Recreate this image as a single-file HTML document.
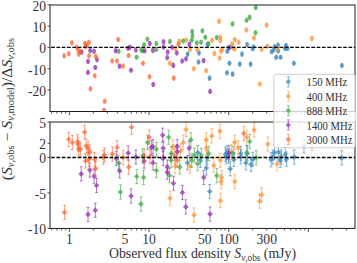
<!DOCTYPE html>
<html><head><meta charset="utf-8"><style>
html,body{margin:0;padding:0;background:#fff;width:357px;height:263px;overflow:hidden}
svg{display:block}
</style></head><body>
<svg width="357" height="263" viewBox="0 0 357 263"><defs><clipPath id="cu"><rect x="50.0" y="5.0" width="305.0" height="106.5"/></clipPath><clipPath id="cl"><rect x="50.0" y="122.0" width="305.0" height="106.4"/></clipPath><filter id="bl" x="-5%" y="-5%" width="110%" height="110%"><feGaussianBlur stdDeviation="0.3"/></filter></defs><rect width="357" height="263" fill="#fff"/><g clip-path="url(#cu)"><g filter="url(#bl)" opacity="0.9"><path d="M186.70 51.55H188.70L189.75 54.10L188.70 56.65H186.70L185.65 54.10Z" fill="rgba(31,119,180,0.8)"/>
<path d="M198.00 50.45H200.00L201.05 53.00L200.00 55.55H198.00L196.95 53.00Z" fill="rgba(31,119,180,0.8)"/>
<path d="M197.50 59.45H199.50L200.55 62.00L199.50 64.55H197.50L196.45 62.00Z" fill="rgba(31,119,180,0.8)"/>
<path d="M206.50 41.85H208.50L209.55 44.40L208.50 46.95H206.50L205.45 44.40Z" fill="rgba(31,119,180,0.8)"/>
<path d="M208.60 75.55H210.60L211.65 78.10L210.60 80.65H208.60L207.55 78.10Z" fill="rgba(31,119,180,0.8)"/>
<path d="M246.10 41.95H248.10L249.15 44.50L248.10 47.05H246.10L245.05 44.50Z" fill="rgba(31,119,180,0.8)"/>
<path d="M226.30 48.65H228.30L229.35 51.20L228.30 53.75H226.30L225.25 51.20Z" fill="rgba(31,119,180,0.8)"/>
<path d="M229.00 44.75H231.00L232.05 47.30L231.00 49.85H229.00L227.95 47.30Z" fill="rgba(31,119,180,0.8)"/>
<path d="M241.00 51.55H243.00L244.05 54.10L243.00 56.65H241.00L239.95 54.10Z" fill="rgba(31,119,180,0.8)"/>
<path d="M251.60 46.15H253.60L254.65 48.70L253.60 51.25H251.60L250.55 48.70Z" fill="rgba(31,119,180,0.8)"/>
<path d="M252.50 44.45H254.50L255.55 47.00L254.50 49.55H252.50L251.45 47.00Z" fill="rgba(31,119,180,0.8)"/>
<path d="M228.50 60.65H230.50L231.55 63.20L230.50 65.75H228.50L227.45 63.20Z" fill="rgba(31,119,180,0.8)"/>
<path d="M238.80 61.55H240.80L241.85 64.10L240.80 66.65H238.80L237.75 64.10Z" fill="rgba(31,119,180,0.8)"/>
<path d="M249.60 61.55H251.60L252.65 64.10L251.60 66.65H249.60L248.55 64.10Z" fill="rgba(31,119,180,0.8)"/>
<path d="M226.00 70.25H228.00L229.05 72.80L228.00 75.35H226.00L224.95 72.80Z" fill="rgba(31,119,180,0.8)"/>
<path d="M231.60 71.55H233.60L234.65 74.10L233.60 76.65H231.60L230.55 74.10Z" fill="rgba(31,119,180,0.8)"/>
<path d="M270.60 49.25H272.60L273.65 51.80L272.60 54.35H270.60L269.55 51.80Z" fill="rgba(31,119,180,0.8)"/>
<path d="M272.70 47.45H274.70L275.75 50.00L274.70 52.55H272.70L271.65 50.00Z" fill="rgba(31,119,180,0.8)"/>
<path d="M273.70 44.25H275.70L276.75 46.80L275.70 49.35H273.70L272.65 46.80Z" fill="rgba(31,119,180,0.8)"/>
<path d="M277.00 42.45H279.00L280.05 45.00L279.00 47.55H277.00L275.95 45.00Z" fill="rgba(31,119,180,0.8)"/>
<path d="M277.20 48.45H279.20L280.25 51.00L279.20 53.55H277.20L276.15 51.00Z" fill="rgba(31,119,180,0.8)"/>
<path d="M275.20 54.75H277.20L278.25 57.30L277.20 59.85H275.20L274.15 57.30Z" fill="rgba(31,119,180,0.8)"/>
<path d="M279.60 54.75H281.60L282.65 57.30L281.60 59.85H279.60L278.55 57.30Z" fill="rgba(31,119,180,0.8)"/>
<path d="M285.00 43.05H287.00L288.05 45.60L287.00 48.15H285.00L283.95 45.60Z" fill="rgba(31,119,180,0.8)"/>
<path d="M284.00 45.95H286.00L287.05 48.50L286.00 51.05H284.00L282.95 48.50Z" fill="rgba(31,119,180,0.8)"/>
<path d="M286.50 45.95H288.50L289.55 48.50L288.50 51.05H286.50L285.45 48.50Z" fill="rgba(31,119,180,0.8)"/>
<path d="M292.90 60.65H294.90L295.95 63.20L294.90 65.75H292.90L291.85 63.20Z" fill="rgba(31,119,180,0.8)"/>
<path d="M340.90 62.95H342.90L343.95 65.50L342.90 68.05H340.90L339.85 65.50Z" fill="rgba(31,119,180,0.8)"/>
<path d="M218.00 18.85H220.00L221.05 21.40L220.00 23.95H218.00L216.95 21.40Z" fill="rgba(255,127,14,0.74)"/>
<path d="M211.10 37.65H213.10L214.15 40.20L213.10 42.75H211.10L210.05 40.20Z" fill="rgba(255,127,14,0.74)"/>
<path d="M185.20 37.45H187.20L188.25 40.00L187.20 42.55H185.20L184.15 40.00Z" fill="rgba(255,127,14,0.74)"/>
<path d="M178.30 38.75H180.30L181.35 41.30L180.30 43.85H178.30L177.25 41.30Z" fill="rgba(255,127,14,0.74)"/>
<path d="M168.90 60.65H170.90L171.95 63.20L170.90 65.75H168.90L167.85 63.20Z" fill="rgba(255,127,14,0.74)"/>
<path d="M174.40 46.15H176.40L177.45 48.70L176.40 51.25H174.40L173.35 48.70Z" fill="rgba(255,127,14,0.74)"/>
<path d="M188.90 46.95H190.90L191.95 49.50L190.90 52.05H188.90L187.85 49.50Z" fill="rgba(255,127,14,0.74)"/>
<path d="M192.80 66.25H194.80L195.85 68.80L194.80 71.35H192.80L191.75 68.80Z" fill="rgba(255,127,14,0.74)"/>
<path d="M196.30 46.95H198.30L199.35 49.50L198.30 52.05H196.30L195.25 49.50Z" fill="rgba(255,127,14,0.74)"/>
<path d="M205.20 68.05H207.20L208.25 70.60L207.20 73.15H205.20L204.15 70.60Z" fill="rgba(255,127,14,0.74)"/>
<path d="M213.40 50.95H215.40L216.45 53.50L215.40 56.05H213.40L212.35 53.50Z" fill="rgba(255,127,14,0.74)"/>
<path d="M218.60 55.45H220.60L221.65 58.00L220.60 60.55H218.60L217.55 58.00Z" fill="rgba(255,127,14,0.74)"/>
<path d="M245.30 27.35H247.30L248.35 29.90L247.30 32.45H245.30L244.25 29.90Z" fill="rgba(255,127,14,0.74)"/>
<path d="M265.60 22.55H267.60L268.65 25.10L267.60 27.65H265.60L264.55 25.10Z" fill="rgba(255,127,14,0.74)"/>
<path d="M253.00 35.35H255.00L256.05 37.90L255.00 40.45H253.00L251.95 37.90Z" fill="rgba(255,127,14,0.74)"/>
<path d="M219.30 34.85H221.30L222.35 37.40L221.30 39.95H219.30L218.25 37.40Z" fill="rgba(255,127,14,0.74)"/>
<path d="M219.30 38.05H221.30L222.35 40.60L221.30 43.15H219.30L218.25 40.60Z" fill="rgba(255,127,14,0.74)"/>
<path d="M233.70 36.95H235.70L236.75 39.50L235.70 42.05H233.70L232.65 39.50Z" fill="rgba(255,127,14,0.74)"/>
<path d="M237.60 39.75H239.60L240.65 42.30L239.60 44.85H237.60L236.55 42.30Z" fill="rgba(255,127,14,0.74)"/>
<path d="M231.10 41.45H233.10L234.15 44.00L233.10 46.55H231.10L230.05 44.00Z" fill="rgba(255,127,14,0.74)"/>
<path d="M266.30 43.75H268.30L269.35 46.30L268.30 48.85H266.30L265.25 46.30Z" fill="rgba(255,127,14,0.74)"/>
<path d="M221.20 46.95H223.20L224.25 49.50L223.20 52.05H221.20L220.15 49.50Z" fill="rgba(255,127,14,0.74)"/>
<path d="M220.00 48.65H222.00L223.05 51.20L222.00 53.75H220.00L218.95 51.20Z" fill="rgba(255,127,14,0.74)"/>
<path d="M232.00 45.25H234.00L235.05 47.80L234.00 50.35H232.00L230.95 47.80Z" fill="rgba(255,127,14,0.74)"/>
<path d="M233.70 46.45H235.70L236.75 49.00L235.70 51.55H233.70L232.65 49.00Z" fill="rgba(255,127,14,0.74)"/>
<path d="M260.70 46.95H262.70L263.75 49.50L262.70 52.05H260.70L259.65 49.50Z" fill="rgba(255,127,14,0.74)"/>
<path d="M258.80 81.45H260.80L261.85 84.00L260.80 86.55H258.80L257.75 84.00Z" fill="rgba(255,127,14,0.74)"/>
<path d="M310.90 35.85H312.90L313.95 38.40L312.90 40.95H310.90L309.85 38.40Z" fill="rgba(255,127,14,0.74)"/>
<path d="M276.20 45.95H278.20L279.25 48.50L278.20 51.05H276.20L275.15 48.50Z" fill="rgba(255,127,14,0.74)"/>
<path d="M117.70 48.65H119.70L120.75 51.20L119.70 53.75H117.70L116.65 51.20Z" fill="rgba(44,160,44,0.8)"/>
<path d="M135.60 54.65H137.60L138.65 57.20L137.60 59.75H135.60L134.55 57.20Z" fill="rgba(44,160,44,0.8)"/>
<path d="M140.20 47.45H142.20L143.25 50.00L142.20 52.55H140.20L139.15 50.00Z" fill="rgba(44,160,44,0.8)"/>
<path d="M141.60 48.15H143.60L144.65 50.70L143.60 53.25H141.60L140.55 50.70Z" fill="rgba(44,160,44,0.8)"/>
<path d="M143.00 42.35H145.00L146.05 44.90L145.00 47.45H143.00L141.95 44.90Z" fill="rgba(44,160,44,0.8)"/>
<path d="M146.40 36.75H148.40L149.45 39.30L148.40 41.85H146.40L145.35 39.30Z" fill="rgba(44,160,44,0.8)"/>
<path d="M155.30 40.95H157.30L158.35 43.50L157.30 46.05H155.30L154.25 43.50Z" fill="rgba(44,160,44,0.8)"/>
<path d="M155.30 46.95H157.30L158.35 49.50L157.30 52.05H155.30L154.25 49.50Z" fill="rgba(44,160,44,0.8)"/>
<path d="M201.40 28.25H203.40L204.45 30.80L203.40 33.35H201.40L200.35 30.80Z" fill="rgba(44,160,44,0.8)"/>
<path d="M191.10 29.05H193.10L194.15 31.60L193.10 34.15H191.10L190.05 31.60Z" fill="rgba(44,160,44,0.8)"/>
<path d="M191.50 33.35H193.50L194.55 35.90L193.50 38.45H191.50L190.45 35.90Z" fill="rgba(44,160,44,0.8)"/>
<path d="M190.60 37.65H192.60L193.65 40.20L192.60 42.75H190.60L189.55 40.20Z" fill="rgba(44,160,44,0.8)"/>
<path d="M204.30 34.75H206.30L207.35 37.30L206.30 39.85H204.30L203.25 37.30Z" fill="rgba(44,160,44,0.8)"/>
<path d="M215.80 35.05H217.80L218.85 37.60L217.80 40.15H215.80L214.75 37.60Z" fill="rgba(44,160,44,0.8)"/>
<path d="M168.90 38.95H170.90L171.95 41.50L170.90 44.05H168.90L167.85 41.50Z" fill="rgba(44,160,44,0.8)"/>
<path d="M182.10 38.45H184.10L185.15 41.00L184.10 43.55H182.10L181.05 41.00Z" fill="rgba(44,160,44,0.8)"/>
<path d="M195.80 40.45H197.80L198.85 43.00L197.80 45.55H195.80L194.75 43.00Z" fill="rgba(44,160,44,0.8)"/>
<path d="M200.00 39.75H202.00L203.05 42.30L202.00 44.85H200.00L198.95 42.30Z" fill="rgba(44,160,44,0.8)"/>
<path d="M207.70 41.35H209.70L210.75 43.90L209.70 46.45H207.70L206.65 43.90Z" fill="rgba(44,160,44,0.8)"/>
<path d="M254.70 4.95H256.70L257.75 7.50L256.70 10.05H254.70L253.65 7.50Z" fill="rgba(44,160,44,0.8)"/>
<path d="M231.60 21.35H233.60L234.65 23.90L233.60 26.45H231.60L230.55 23.90Z" fill="rgba(44,160,44,0.8)"/>
<path d="M245.60 17.65H247.60L248.65 20.20L247.60 22.75H245.60L244.55 20.20Z" fill="rgba(44,160,44,0.8)"/>
<path d="M248.70 14.85H250.70L251.75 17.40L250.70 19.95H248.70L247.65 17.40Z" fill="rgba(44,160,44,0.8)"/>
<path d="M254.50 30.25H256.50L257.55 32.80L256.50 35.35H254.50L253.45 32.80Z" fill="rgba(44,160,44,0.8)"/>
<path d="M80.60 49.55H82.60L83.65 52.10L82.60 54.65H80.60L79.55 52.10Z" fill="rgba(128,10,162,0.75)"/>
<path d="M89.20 47.85H91.20L92.25 50.40L91.20 52.95H89.20L88.15 50.40Z" fill="rgba(128,10,162,0.75)"/>
<path d="M93.10 48.65H95.10L96.15 51.20L95.10 53.75H93.10L92.05 51.20Z" fill="rgba(128,10,162,0.75)"/>
<path d="M96.00 57.25H98.00L99.05 59.80L98.00 62.35H96.00L94.95 59.80Z" fill="rgba(128,10,162,0.75)"/>
<path d="M87.00 58.95H89.00L90.05 61.50L89.00 64.05H87.00L85.95 61.50Z" fill="rgba(128,10,162,0.75)"/>
<path d="M94.30 64.95H96.30L97.35 67.50L96.30 70.05H94.30L93.25 67.50Z" fill="rgba(128,10,162,0.75)"/>
<path d="M87.00 69.85H89.00L90.05 72.40L89.00 74.95H87.00L85.95 72.40Z" fill="rgba(128,10,162,0.75)"/>
<path d="M114.60 48.15H116.60L117.65 50.70L116.60 53.25H114.60L113.55 50.70Z" fill="rgba(128,10,162,0.75)"/>
<path d="M127.10 45.75H129.10L130.15 48.30L129.10 50.85H127.10L126.05 48.30Z" fill="rgba(128,10,162,0.75)"/>
<path d="M128.80 44.75H130.80L131.85 47.30L130.80 49.85H128.80L127.75 47.30Z" fill="rgba(128,10,162,0.75)"/>
<path d="M118.50 63.55H120.50L121.55 66.10L120.50 68.65H118.50L117.45 66.10Z" fill="rgba(128,10,162,0.75)"/>
<path d="M130.00 67.75H132.00L133.05 70.30L132.00 72.85H130.00L128.95 70.30Z" fill="rgba(128,10,162,0.75)"/>
<path d="M134.80 47.45H136.80L137.85 50.00L136.80 52.55H134.80L133.75 50.00Z" fill="rgba(128,10,162,0.75)"/>
<path d="M143.70 48.15H145.70L146.75 50.70L145.70 53.25H143.70L142.65 50.70Z" fill="rgba(128,10,162,0.75)"/>
<path d="M148.80 40.95H150.80L151.85 43.50L150.80 46.05H148.80L147.75 43.50Z" fill="rgba(128,10,162,0.75)"/>
<path d="M151.90 47.85H153.90L154.95 50.40L153.90 52.95H151.90L150.85 50.40Z" fill="rgba(128,10,162,0.75)"/>
<path d="M162.50 39.25H164.50L165.55 41.80L164.50 44.35H162.50L161.45 41.80Z" fill="rgba(128,10,162,0.75)"/>
<path d="M162.50 44.45H164.50L165.55 47.00L164.50 49.55H162.50L161.45 47.00Z" fill="rgba(128,10,162,0.75)"/>
<path d="M152.20 81.95H154.20L155.25 84.50L154.20 87.05H152.20L151.15 84.50Z" fill="rgba(128,10,162,0.75)"/>
<path d="M166.70 49.55H168.70L169.75 52.10L168.70 54.65H166.70L165.65 52.10Z" fill="rgba(128,10,162,0.75)"/>
<path d="M166.20 55.15H168.20L169.25 57.70L168.20 60.25H166.20L165.15 57.70Z" fill="rgba(128,10,162,0.75)"/>
<path d="M171.00 44.75H173.00L174.05 47.30L173.00 49.85H171.00L169.95 47.30Z" fill="rgba(128,10,162,0.75)"/>
<path d="M175.80 50.45H177.80L178.85 53.00L177.80 55.55H175.80L174.75 53.00Z" fill="rgba(128,10,162,0.75)"/>
<path d="M172.30 62.85H174.30L175.35 65.40L174.30 67.95H172.30L171.25 65.40Z" fill="rgba(128,10,162,0.75)"/>
<path d="M181.20 58.45H183.20L184.25 61.00L183.20 63.55H181.20L180.15 61.00Z" fill="rgba(128,10,162,0.75)"/>
<path d="M185.00 56.35H187.00L188.05 58.90L187.00 61.45H185.00L183.95 58.90Z" fill="rgba(128,10,162,0.75)"/>
<path d="M188.40 41.85H190.40L191.45 44.40L190.40 46.95H188.40L187.35 44.40Z" fill="rgba(128,10,162,0.75)"/>
<path d="M202.60 58.05H204.60L205.65 60.60L204.60 63.15H202.60L201.55 60.60Z" fill="rgba(128,10,162,0.75)"/>
<path d="M209.10 88.85H211.10L212.15 91.40L211.10 93.95H209.10L208.05 91.40Z" fill="rgba(128,10,162,0.75)"/>
<path d="M227.70 45.25H229.70L230.75 47.80L229.70 50.35H227.70L226.65 47.80Z" fill="rgba(128,10,162,0.75)"/>
<path d="M70.90 40.15H72.90L73.95 42.70L72.90 45.25H70.90L69.85 42.70Z" fill="rgba(255,69,0,0.7)"/>
<path d="M63.20 53.35H65.20L66.25 55.90L65.20 58.45H63.20L62.15 55.90Z" fill="rgba(255,69,0,0.7)"/>
<path d="M67.80 51.25H69.80L70.85 53.80L69.80 56.35H67.80L66.75 53.80Z" fill="rgba(255,69,0,0.7)"/>
<path d="M75.80 44.75H77.80L78.85 47.30L77.80 49.85H75.80L74.75 47.30Z" fill="rgba(255,69,0,0.7)"/>
<path d="M77.20 47.45H79.20L80.25 50.00L79.20 52.55H77.20L76.15 50.00Z" fill="rgba(255,69,0,0.7)"/>
<path d="M77.70 51.55H79.70L80.75 54.10L79.70 56.65H77.70L76.65 54.10Z" fill="rgba(255,69,0,0.7)"/>
<path d="M79.40 49.25H81.40L82.45 51.80L81.40 54.35H79.40L78.35 51.80Z" fill="rgba(255,69,0,0.7)"/>
<path d="M84.00 40.95H86.00L87.05 43.50L86.00 46.05H84.00L82.95 43.50Z" fill="rgba(255,69,0,0.7)"/>
<path d="M85.80 42.75H87.80L88.85 45.30L87.80 47.85H85.80L84.75 45.30Z" fill="rgba(255,69,0,0.7)"/>
<path d="M88.00 39.65H90.00L91.05 42.20L90.00 44.75H88.00L86.95 42.20Z" fill="rgba(255,69,0,0.7)"/>
<path d="M84.60 44.05H86.60L87.65 46.60L86.60 49.15H84.60L83.55 46.60Z" fill="rgba(255,69,0,0.7)"/>
<path d="M88.00 53.35H90.00L91.05 55.90L90.00 58.45H88.00L86.95 55.90Z" fill="rgba(255,69,0,0.7)"/>
<path d="M94.80 53.85H96.80L97.85 56.40L96.80 58.95H94.80L93.75 56.40Z" fill="rgba(255,69,0,0.7)"/>
<path d="M93.80 73.25H95.80L96.85 75.80L95.80 78.35H93.80L92.75 75.80Z" fill="rgba(255,69,0,0.7)"/>
<path d="M89.50 86.25H91.50L92.55 88.80L91.50 91.35H89.50L88.45 88.80Z" fill="rgba(255,69,0,0.7)"/>
<path d="M103.70 98.75H105.70L106.75 101.30L105.70 103.85H103.70L102.65 101.30Z" fill="rgba(255,69,0,0.7)"/>
<path d="M103.10 107.65H105.10L106.15 110.20L105.10 112.75H103.10L102.05 110.20Z" fill="rgba(255,69,0,0.7)"/>
<path d="M117.20 37.05H119.20L120.25 39.60L119.20 42.15H117.20L116.15 39.60Z" fill="rgba(255,69,0,0.7)"/>
<path d="M127.60 52.95H129.60L130.65 55.50L129.60 58.05H127.60L126.55 55.50Z" fill="rgba(255,69,0,0.7)"/>
<path d="M111.20 58.45H113.20L114.25 61.00L113.20 63.55H111.20L110.15 61.00Z" fill="rgba(255,69,0,0.7)"/>
<path d="M116.00 58.45H118.00L119.05 61.00L118.00 63.55H116.00L114.95 61.00Z" fill="rgba(255,69,0,0.7)"/>
<path d="M122.00 63.55H124.00L125.05 66.10L124.00 68.65H122.00L120.95 66.10Z" fill="rgba(255,69,0,0.7)"/>
<path d="M142.00 60.65H144.00L145.05 63.20L144.00 65.75H142.00L140.95 63.20Z" fill="rgba(255,69,0,0.7)"/>
<path d="M148.60 74.25H150.60L151.65 76.80L150.60 79.35H148.60L147.55 76.80Z" fill="rgba(255,69,0,0.7)"/>
<path d="M172.70 75.55H174.70L175.75 78.10L174.70 80.65H172.70L171.65 78.10Z" fill="rgba(255,69,0,0.7)"/>
<path d="M177.50 41.85H179.50L180.55 44.40L179.50 46.95H177.50L176.45 44.40Z" fill="rgba(255,69,0,0.7)"/></g></g><g clip-path="url(#cl)"><g filter="url(#bl)" opacity="0.84"><path d="M197.70 145.51V159.69M196.30 145.51H199.10M196.30 159.69H199.10" stroke="rgba(31,119,180,0.8)" stroke-width="0.85" fill="none"/><path d="M197.70 149.80L200.50 152.60L197.70 155.40L194.90 152.60Z" fill="rgba(31,119,180,0.8)"/>
<path d="M187.50 155.71V169.89M186.10 155.71H188.90M186.10 169.89H188.90" stroke="rgba(31,119,180,0.8)" stroke-width="0.85" fill="none"/><path d="M187.50 160.00L190.30 162.80L187.50 165.60L184.70 162.80Z" fill="rgba(31,119,180,0.8)"/>
<path d="M200.30 153.21V167.39M198.90 153.21H201.70M198.90 167.39H201.70" stroke="rgba(31,119,180,0.8)" stroke-width="0.85" fill="none"/><path d="M200.30 157.50L203.10 160.30L200.30 163.10L197.50 160.30Z" fill="rgba(31,119,180,0.8)"/>
<path d="M206.30 160.91V175.09M204.90 160.91H207.70M204.90 175.09H207.70" stroke="rgba(31,119,180,0.8)" stroke-width="0.85" fill="none"/><path d="M206.30 165.20L209.10 168.00L206.30 170.80L203.50 168.00Z" fill="rgba(31,119,180,0.8)"/>
<path d="M207.10 150.61V164.79M205.70 150.61H208.50M205.70 164.79H208.50" stroke="rgba(31,119,180,0.8)" stroke-width="0.85" fill="none"/><path d="M207.10 154.90L209.90 157.70L207.10 160.50L204.30 157.70Z" fill="rgba(31,119,180,0.8)"/>
<path d="M209.70 184.41V198.59M208.30 184.41H211.10M208.30 198.59H211.10" stroke="rgba(31,119,180,0.8)" stroke-width="0.85" fill="none"/><path d="M209.70 188.70L212.50 191.50L209.70 194.30L206.90 191.50Z" fill="rgba(31,119,180,0.8)"/>
<path d="M227.10 145.51V159.69M225.70 145.51H228.50M225.70 159.69H228.50" stroke="rgba(31,119,180,0.8)" stroke-width="0.85" fill="none"/><path d="M227.10 149.80L229.90 152.60L227.10 155.40L224.30 152.60Z" fill="rgba(31,119,180,0.8)"/>
<path d="M240.80 146.41V160.59M239.40 146.41H242.20M239.40 160.59H242.20" stroke="rgba(31,119,180,0.8)" stroke-width="0.85" fill="none"/><path d="M240.80 150.70L243.60 153.50L240.80 156.30L238.00 153.50Z" fill="rgba(31,119,180,0.8)"/>
<path d="M246.80 145.51V159.69M245.40 145.51H248.20M245.40 159.69H248.20" stroke="rgba(31,119,180,0.8)" stroke-width="0.85" fill="none"/><path d="M246.80 149.80L249.60 152.60L246.80 155.40L244.00 152.60Z" fill="rgba(31,119,180,0.8)"/>
<path d="M225.40 147.21V161.39M224.00 147.21H226.80M224.00 161.39H226.80" stroke="rgba(31,119,180,0.8)" stroke-width="0.85" fill="none"/><path d="M225.40 151.50L228.20 154.30L225.40 157.10L222.60 154.30Z" fill="rgba(31,119,180,0.8)"/>
<path d="M226.20 149.71V163.89M224.80 149.71H227.60M224.80 163.89H227.60" stroke="rgba(31,119,180,0.8)" stroke-width="0.85" fill="none"/><path d="M226.20 154.00L229.00 156.80L226.20 159.60L223.40 156.80Z" fill="rgba(31,119,180,0.8)"/>
<path d="M228.50 148.91V163.09M227.10 148.91H229.90M227.10 163.09H229.90" stroke="rgba(31,119,180,0.8)" stroke-width="0.85" fill="none"/><path d="M228.50 153.20L231.30 156.00L228.50 158.80L225.70 156.00Z" fill="rgba(31,119,180,0.8)"/>
<path d="M230.20 161.71V175.89M228.80 161.71H231.60M228.80 175.89H231.60" stroke="rgba(31,119,180,0.8)" stroke-width="0.85" fill="none"/><path d="M230.20 166.00L233.00 168.80L230.20 171.60L227.40 168.80Z" fill="rgba(31,119,180,0.8)"/>
<path d="M233.90 152.31V166.49M232.50 152.31H235.30M232.50 166.49H235.30" stroke="rgba(31,119,180,0.8)" stroke-width="0.85" fill="none"/><path d="M233.90 156.60L236.70 159.40L233.90 162.20L231.10 159.40Z" fill="rgba(31,119,180,0.8)"/>
<path d="M240.80 149.71V163.89M239.40 149.71H242.20M239.40 163.89H242.20" stroke="rgba(31,119,180,0.8)" stroke-width="0.85" fill="none"/><path d="M240.80 154.00L243.60 156.80L240.80 159.60L238.00 156.80Z" fill="rgba(31,119,180,0.8)"/>
<path d="M245.90 155.71V169.89M244.50 155.71H247.30M244.50 169.89H247.30" stroke="rgba(31,119,180,0.8)" stroke-width="0.85" fill="none"/><path d="M245.90 160.00L248.70 162.80L245.90 165.60L243.10 162.80Z" fill="rgba(31,119,180,0.8)"/>
<path d="M251.00 157.41V171.59M249.60 157.41H252.40M249.60 171.59H252.40" stroke="rgba(31,119,180,0.8)" stroke-width="0.85" fill="none"/><path d="M251.00 161.70L253.80 164.50L251.00 167.30L248.20 164.50Z" fill="rgba(31,119,180,0.8)"/>
<path d="M252.70 152.31V166.49M251.30 152.31H254.10M251.30 166.49H254.10" stroke="rgba(31,119,180,0.8)" stroke-width="0.85" fill="none"/><path d="M252.70 156.60L255.50 159.40L252.70 162.20L249.90 159.40Z" fill="rgba(31,119,180,0.8)"/>
<path d="M272.80 150.01V164.19M271.40 150.01H274.20M271.40 164.19H274.20" stroke="rgba(31,119,180,0.8)" stroke-width="0.85" fill="none"/><path d="M272.80 154.30L275.60 157.10L272.80 159.90L270.00 157.10Z" fill="rgba(31,119,180,0.8)"/>
<path d="M271.10 152.61V166.79M269.70 152.61H272.50M269.70 166.79H272.50" stroke="rgba(31,119,180,0.8)" stroke-width="0.85" fill="none"/><path d="M271.10 156.90L273.90 159.70L271.10 162.50L268.30 159.70Z" fill="rgba(31,119,180,0.8)"/>
<path d="M274.50 145.71V159.89M273.10 145.71H275.90M273.10 159.89H275.90" stroke="rgba(31,119,180,0.8)" stroke-width="0.85" fill="none"/><path d="M274.50 150.00L277.30 152.80L274.50 155.60L271.70 152.80Z" fill="rgba(31,119,180,0.8)"/>
<path d="M278.50 144.91V159.09M277.10 144.91H279.90M277.10 159.09H279.90" stroke="rgba(31,119,180,0.8)" stroke-width="0.85" fill="none"/><path d="M278.50 149.20L281.30 152.00L278.50 154.80L275.70 152.00Z" fill="rgba(31,119,180,0.8)"/>
<path d="M280.20 153.41V167.59M278.80 153.41H281.60M278.80 167.59H281.60" stroke="rgba(31,119,180,0.8)" stroke-width="0.85" fill="none"/><path d="M280.20 157.70L283.00 160.50L280.20 163.30L277.40 160.50Z" fill="rgba(31,119,180,0.8)"/>
<path d="M281.40 150.01V164.19M280.00 150.01H282.80M280.00 164.19H282.80" stroke="rgba(31,119,180,0.8)" stroke-width="0.85" fill="none"/><path d="M281.40 154.30L284.20 157.10L281.40 159.90L278.60 157.10Z" fill="rgba(31,119,180,0.8)"/>
<path d="M285.30 147.41V161.59M283.90 147.41H286.70M283.90 161.59H286.70" stroke="rgba(31,119,180,0.8)" stroke-width="0.85" fill="none"/><path d="M285.30 151.70L288.10 154.50L285.30 157.30L282.50 154.50Z" fill="rgba(31,119,180,0.8)"/>
<path d="M286.50 152.01V166.19M285.10 152.01H287.90M285.10 166.19H287.90" stroke="rgba(31,119,180,0.8)" stroke-width="0.85" fill="none"/><path d="M286.50 156.30L289.30 159.10L286.50 161.90L283.70 159.10Z" fill="rgba(31,119,180,0.8)"/>
<path d="M294.20 150.01V164.19M292.80 150.01H295.60M292.80 164.19H295.60" stroke="rgba(31,119,180,0.8)" stroke-width="0.85" fill="none"/><path d="M294.20 154.30L297.00 157.10L294.20 159.90L291.40 157.10Z" fill="rgba(31,119,180,0.8)"/>
<path d="M304.00 138.91V153.09M302.60 138.91H305.40M302.60 153.09H305.40" stroke="rgba(31,119,180,0.8)" stroke-width="0.85" fill="none"/><path d="M304.00 143.20L306.80 146.00L304.00 148.80L301.20 146.00Z" fill="rgba(31,119,180,0.8)"/>
<path d="M341.80 150.81V164.99M340.40 150.81H343.20M340.40 164.99H343.20" stroke="rgba(31,119,180,0.8)" stroke-width="0.85" fill="none"/><path d="M341.80 155.10L344.60 157.90L341.80 160.70L339.00 157.90Z" fill="rgba(31,119,180,0.8)"/>
<path d="M173.00 139.51V153.69M171.60 139.51H174.40M171.60 153.69H174.40" stroke="rgba(255,127,14,0.74)" stroke-width="0.85" fill="none"/><path d="M173.00 143.80L175.80 146.60L173.00 149.40L170.20 146.60Z" fill="rgba(255,127,14,0.74)"/>
<path d="M183.20 135.31V149.49M181.80 135.31H184.60M181.80 149.49H184.60" stroke="rgba(255,127,14,0.74)" stroke-width="0.85" fill="none"/><path d="M183.20 139.60L186.00 142.40L183.20 145.20L180.40 142.40Z" fill="rgba(255,127,14,0.74)"/>
<path d="M186.10 122.41V136.59M184.70 122.41H187.50M184.70 136.59H187.50" stroke="rgba(255,127,14,0.74)" stroke-width="0.85" fill="none"/><path d="M186.10 126.70L188.90 129.50L186.10 132.30L183.30 129.50Z" fill="rgba(255,127,14,0.74)"/>
<path d="M180.60 143.81V157.99M179.20 143.81H182.00M179.20 157.99H182.00" stroke="rgba(255,127,14,0.74)" stroke-width="0.85" fill="none"/><path d="M180.60 148.10L183.40 150.90L180.60 153.70L177.80 150.90Z" fill="rgba(255,127,14,0.74)"/>
<path d="M206.30 132.71V146.89M204.90 132.71H207.70M204.90 146.89H207.70" stroke="rgba(255,127,14,0.74)" stroke-width="0.85" fill="none"/><path d="M206.30 137.00L209.10 139.80L206.30 142.60L203.50 139.80Z" fill="rgba(255,127,14,0.74)"/>
<path d="M211.80 128.81V142.99M210.40 128.81H213.20M210.40 142.99H213.20" stroke="rgba(255,127,14,0.74)" stroke-width="0.85" fill="none"/><path d="M211.80 133.10L214.60 135.90L211.80 138.70L209.00 135.90Z" fill="rgba(255,127,14,0.74)"/>
<path d="M206.30 141.21V155.39M204.90 141.21H207.70M204.90 155.39H207.70" stroke="rgba(255,127,14,0.74)" stroke-width="0.85" fill="none"/><path d="M206.30 145.50L209.10 148.30L206.30 151.10L203.50 148.30Z" fill="rgba(255,127,14,0.74)"/>
<path d="M175.20 159.11V173.29M173.80 159.11H176.60M173.80 173.29H176.60" stroke="rgba(255,127,14,0.74)" stroke-width="0.85" fill="none"/><path d="M175.20 163.40L178.00 166.20L175.20 169.00L172.40 166.20Z" fill="rgba(255,127,14,0.74)"/>
<path d="M190.00 159.11V173.29M188.60 159.11H191.40M188.60 173.29H191.40" stroke="rgba(255,127,14,0.74)" stroke-width="0.85" fill="none"/><path d="M190.00 163.40L192.80 166.20L190.00 169.00L187.20 166.20Z" fill="rgba(255,127,14,0.74)"/>
<path d="M170.00 191.21V205.39M168.60 191.21H171.40M168.60 205.39H171.40" stroke="rgba(255,127,14,0.74)" stroke-width="0.85" fill="none"/><path d="M170.00 195.50L172.80 198.30L170.00 201.10L167.20 198.30Z" fill="rgba(255,127,14,0.74)"/>
<path d="M194.00 207.81V221.99M192.60 207.81H195.40M192.60 221.99H195.40" stroke="rgba(255,127,14,0.74)" stroke-width="0.85" fill="none"/><path d="M194.00 212.10L196.80 214.90L194.00 217.70L191.20 214.90Z" fill="rgba(255,127,14,0.74)"/>
<path d="M219.90 124.11V138.29M218.50 124.11H221.30M218.50 138.29H221.30" stroke="rgba(255,127,14,0.74)" stroke-width="0.85" fill="none"/><path d="M219.90 128.40L222.70 131.20L219.90 134.00L217.10 131.20Z" fill="rgba(255,127,14,0.74)"/>
<path d="M234.80 135.31V149.49M233.40 135.31H236.20M233.40 149.49H236.20" stroke="rgba(255,127,14,0.74)" stroke-width="0.85" fill="none"/><path d="M234.80 139.60L237.60 142.40L234.80 145.20L232.00 142.40Z" fill="rgba(255,127,14,0.74)"/>
<path d="M238.20 140.41V154.59M236.80 140.41H239.60M236.80 154.59H239.60" stroke="rgba(255,127,14,0.74)" stroke-width="0.85" fill="none"/><path d="M238.20 144.70L241.00 147.50L238.20 150.30L235.40 147.50Z" fill="rgba(255,127,14,0.74)"/>
<path d="M246.80 130.11V144.29M245.40 130.11H248.20M245.40 144.29H248.20" stroke="rgba(255,127,14,0.74)" stroke-width="0.85" fill="none"/><path d="M246.80 134.40L249.60 137.20L246.80 140.00L244.00 137.20Z" fill="rgba(255,127,14,0.74)"/>
<path d="M254.10 122.91V137.09M252.70 122.91H255.50M252.70 137.09H255.50" stroke="rgba(255,127,14,0.74)" stroke-width="0.85" fill="none"/><path d="M254.10 127.20L256.90 130.00L254.10 132.80L251.30 130.00Z" fill="rgba(255,127,14,0.74)"/>
<path d="M267.80 137.01V151.19M266.40 137.01H269.20M266.40 151.19H269.20" stroke="rgba(255,127,14,0.74)" stroke-width="0.85" fill="none"/><path d="M267.80 141.30L270.60 144.10L267.80 146.90L265.00 144.10Z" fill="rgba(255,127,14,0.74)"/>
<path d="M231.40 144.71V158.89M230.00 144.71H232.80M230.00 158.89H232.80" stroke="rgba(255,127,14,0.74)" stroke-width="0.85" fill="none"/><path d="M231.40 149.00L234.20 151.80L231.40 154.60L228.60 151.80Z" fill="rgba(255,127,14,0.74)"/>
<path d="M213.80 158.31V172.49M212.40 158.31H215.20M212.40 172.49H215.20" stroke="rgba(255,127,14,0.74)" stroke-width="0.85" fill="none"/><path d="M213.80 162.60L216.60 165.40L213.80 168.20L211.00 165.40Z" fill="rgba(255,127,14,0.74)"/>
<path d="M220.30 153.21V167.39M218.90 153.21H221.70M218.90 167.39H221.70" stroke="rgba(255,127,14,0.74)" stroke-width="0.85" fill="none"/><path d="M220.30 157.50L223.10 160.30L220.30 163.10L217.50 160.30Z" fill="rgba(255,127,14,0.74)"/>
<path d="M221.60 170.31V184.49M220.20 170.31H223.00M220.20 184.49H223.00" stroke="rgba(255,127,14,0.74)" stroke-width="0.85" fill="none"/><path d="M221.60 174.60L224.40 177.40L221.60 180.20L218.80 177.40Z" fill="rgba(255,127,14,0.74)"/>
<path d="M221.10 174.51V188.69M219.70 174.51H222.50M219.70 188.69H222.50" stroke="rgba(255,127,14,0.74)" stroke-width="0.85" fill="none"/><path d="M221.10 178.80L223.90 181.60L221.10 184.40L218.30 181.60Z" fill="rgba(255,127,14,0.74)"/>
<path d="M234.80 174.51V188.69M233.40 174.51H236.20M233.40 188.69H236.20" stroke="rgba(255,127,14,0.74)" stroke-width="0.85" fill="none"/><path d="M234.80 178.80L237.60 181.60L234.80 184.40L232.00 181.60Z" fill="rgba(255,127,14,0.74)"/>
<path d="M261.60 187.81V201.99M260.20 187.81H263.00M260.20 201.99H263.00" stroke="rgba(255,127,14,0.74)" stroke-width="0.85" fill="none"/><path d="M261.60 192.10L264.40 194.90L261.60 197.70L258.80 194.90Z" fill="rgba(255,127,14,0.74)"/>
<path d="M259.60 194.11V208.29M258.20 194.11H261.00M258.20 208.29H261.00" stroke="rgba(255,127,14,0.74)" stroke-width="0.85" fill="none"/><path d="M259.60 198.40L262.40 201.20L259.60 204.00L256.80 201.20Z" fill="rgba(255,127,14,0.74)"/>
<path d="M220.30 193.61V207.79M218.90 193.61H221.70M218.90 207.79H221.70" stroke="rgba(255,127,14,0.74)" stroke-width="0.85" fill="none"/><path d="M220.30 197.90L223.10 200.70L220.30 203.50L217.50 200.70Z" fill="rgba(255,127,14,0.74)"/>
<path d="M277.10 156.81V170.99M275.70 156.81H278.50M275.70 170.99H278.50" stroke="rgba(255,127,14,0.74)" stroke-width="0.85" fill="none"/><path d="M277.10 161.10L279.90 163.90L277.10 166.70L274.30 163.90Z" fill="rgba(255,127,14,0.74)"/>
<path d="M312.00 136.41V150.59M310.60 136.41H313.40M310.60 150.59H313.40" stroke="rgba(255,127,14,0.74)" stroke-width="0.85" fill="none"/><path d="M312.00 140.70L314.80 143.50L312.00 146.30L309.20 143.50Z" fill="rgba(255,127,14,0.74)"/>
<path d="M147.50 135.31V149.49M146.10 135.31H148.90M146.10 149.49H148.90" stroke="rgba(44,160,44,0.8)" stroke-width="0.85" fill="none"/><path d="M147.50 139.60L150.30 142.40L147.50 145.20L144.70 142.40Z" fill="rgba(44,160,44,0.8)"/>
<path d="M156.40 142.11V156.29M155.00 142.11H157.80M155.00 156.29H157.80" stroke="rgba(44,160,44,0.8)" stroke-width="0.85" fill="none"/><path d="M156.40 146.40L159.20 149.20L156.40 152.00L153.60 149.20Z" fill="rgba(44,160,44,0.8)"/>
<path d="M142.70 148.91V163.09M141.30 148.91H144.10M141.30 163.09H144.10" stroke="rgba(44,160,44,0.8)" stroke-width="0.85" fill="none"/><path d="M142.70 153.20L145.50 156.00L142.70 158.80L139.90 156.00Z" fill="rgba(44,160,44,0.8)"/>
<path d="M118.50 155.71V169.89M117.10 155.71H119.90M117.10 169.89H119.90" stroke="rgba(44,160,44,0.8)" stroke-width="0.85" fill="none"/><path d="M118.50 160.00L121.30 162.80L118.50 165.60L115.70 162.80Z" fill="rgba(44,160,44,0.8)"/>
<path d="M136.80 169.41V183.59M135.40 169.41H138.20M135.40 183.59H138.20" stroke="rgba(44,160,44,0.8)" stroke-width="0.85" fill="none"/><path d="M136.80 173.70L139.60 176.50L136.80 179.30L134.00 176.50Z" fill="rgba(44,160,44,0.8)"/>
<path d="M143.60 170.31V184.49M142.20 170.31H145.00M142.20 184.49H145.00" stroke="rgba(44,160,44,0.8)" stroke-width="0.85" fill="none"/><path d="M143.60 174.60L146.40 177.40L143.60 180.20L140.80 177.40Z" fill="rgba(44,160,44,0.8)"/>
<path d="M156.40 163.41V177.59M155.00 163.41H157.80M155.00 177.59H157.80" stroke="rgba(44,160,44,0.8)" stroke-width="0.85" fill="none"/><path d="M156.40 167.70L159.20 170.50L156.40 173.30L153.60 170.50Z" fill="rgba(44,160,44,0.8)"/>
<path d="M120.50 184.91V199.09M119.10 184.91H121.90M119.10 199.09H121.90" stroke="rgba(44,160,44,0.8)" stroke-width="0.85" fill="none"/><path d="M120.50 189.20L123.30 192.00L120.50 194.80L117.70 192.00Z" fill="rgba(44,160,44,0.8)"/>
<path d="M141.00 197.01V211.19M139.60 197.01H142.40M139.60 211.19H142.40" stroke="rgba(44,160,44,0.8)" stroke-width="0.85" fill="none"/><path d="M141.00 201.30L143.80 204.10L141.00 206.90L138.20 204.10Z" fill="rgba(44,160,44,0.8)"/>
<path d="M168.70 130.11V144.29M167.30 130.11H170.10M167.30 144.29H170.10" stroke="rgba(44,160,44,0.8)" stroke-width="0.85" fill="none"/><path d="M168.70 134.40L171.50 137.20L168.70 140.00L165.90 137.20Z" fill="rgba(44,160,44,0.8)"/>
<path d="M190.90 132.71V146.89M189.50 132.71H192.30M189.50 146.89H192.30" stroke="rgba(44,160,44,0.8)" stroke-width="0.85" fill="none"/><path d="M190.90 137.00L193.70 139.80L190.90 142.60L188.10 139.80Z" fill="rgba(44,160,44,0.8)"/>
<path d="M201.20 148.11V162.29M199.80 148.11H202.60M199.80 162.29H202.60" stroke="rgba(44,160,44,0.8)" stroke-width="0.85" fill="none"/><path d="M201.20 152.40L204.00 155.20L201.20 158.00L198.40 155.20Z" fill="rgba(44,160,44,0.8)"/>
<path d="M208.80 146.41V160.59M207.40 146.41H210.20M207.40 160.59H210.20" stroke="rgba(44,160,44,0.8)" stroke-width="0.85" fill="none"/><path d="M208.80 150.70L211.60 153.50L208.80 156.30L206.00 153.50Z" fill="rgba(44,160,44,0.8)"/>
<path d="M194.30 148.11V162.29M192.90 148.11H195.70M192.90 162.29H195.70" stroke="rgba(44,160,44,0.8)" stroke-width="0.85" fill="none"/><path d="M194.30 152.40L197.10 155.20L194.30 158.00L191.50 155.20Z" fill="rgba(44,160,44,0.8)"/>
<path d="M171.20 146.41V160.59M169.80 146.41H172.60M169.80 160.59H172.60" stroke="rgba(44,160,44,0.8)" stroke-width="0.85" fill="none"/><path d="M171.20 150.70L174.00 153.50L171.20 156.30L168.40 153.50Z" fill="rgba(44,160,44,0.8)"/>
<path d="M169.50 168.51V182.69M168.10 168.51H170.90M168.10 182.69H170.90" stroke="rgba(44,160,44,0.8)" stroke-width="0.85" fill="none"/><path d="M169.50 172.80L172.30 175.60L169.50 178.40L166.70 175.60Z" fill="rgba(44,160,44,0.8)"/>
<path d="M171.20 153.21V167.39M169.80 153.21H172.60M169.80 167.39H172.60" stroke="rgba(44,160,44,0.8)" stroke-width="0.85" fill="none"/><path d="M171.20 157.50L174.00 160.30L171.20 163.10L168.40 160.30Z" fill="rgba(44,160,44,0.8)"/>
<path d="M179.80 160.01V174.19M178.40 160.01H181.20M178.40 174.19H181.20" stroke="rgba(44,160,44,0.8)" stroke-width="0.85" fill="none"/><path d="M179.80 164.30L182.60 167.10L179.80 169.90L177.00 167.10Z" fill="rgba(44,160,44,0.8)"/>
<path d="M191.80 153.21V167.39M190.40 153.21H193.20M190.40 167.39H193.20" stroke="rgba(44,160,44,0.8)" stroke-width="0.85" fill="none"/><path d="M191.80 157.50L194.60 160.30L191.80 163.10L189.00 160.30Z" fill="rgba(44,160,44,0.8)"/>
<path d="M197.70 156.61V170.79M196.30 156.61H199.10M196.30 170.79H199.10" stroke="rgba(44,160,44,0.8)" stroke-width="0.85" fill="none"/><path d="M197.70 160.90L200.50 163.70L197.70 166.50L194.90 163.70Z" fill="rgba(44,160,44,0.8)"/>
<path d="M249.70 134.41V148.59M248.30 134.41H251.10M248.30 148.59H251.10" stroke="rgba(44,160,44,0.8)" stroke-width="0.85" fill="none"/><path d="M249.70 138.70L252.50 141.50L249.70 144.30L246.90 141.50Z" fill="rgba(44,160,44,0.8)"/>
<path d="M233.10 146.41V160.59M231.70 146.41H234.50M231.70 160.59H234.50" stroke="rgba(44,160,44,0.8)" stroke-width="0.85" fill="none"/><path d="M233.10 150.70L235.90 153.50L233.10 156.30L230.30 153.50Z" fill="rgba(44,160,44,0.8)"/>
<path d="M256.20 150.71V164.89M254.80 150.71H257.60M254.80 164.89H257.60" stroke="rgba(44,160,44,0.8)" stroke-width="0.85" fill="none"/><path d="M256.20 155.00L259.00 157.80L256.20 160.60L253.40 157.80Z" fill="rgba(44,160,44,0.8)"/>
<path d="M216.80 168.51V182.69M215.40 168.51H218.20M215.40 182.69H218.20" stroke="rgba(44,160,44,0.8)" stroke-width="0.85" fill="none"/><path d="M216.80 172.80L219.60 175.60L216.80 178.40L214.00 175.60Z" fill="rgba(44,160,44,0.8)"/>
<path d="M247.30 146.31V160.49M245.90 146.31H248.70M245.90 160.49H248.70" stroke="rgba(44,160,44,0.8)" stroke-width="0.85" fill="none"/><path d="M247.30 150.60L250.10 153.40L247.30 156.20L244.50 153.40Z" fill="rgba(44,160,44,0.8)"/>
<path d="M81.20 166.81V180.99M79.80 166.81H82.60M79.80 180.99H82.60" stroke="rgba(128,10,162,0.75)" stroke-width="0.85" fill="none"/><path d="M81.20 171.10L84.00 173.90L81.20 176.70L78.40 173.90Z" fill="rgba(128,10,162,0.75)"/>
<path d="M89.80 163.01V177.19M88.40 163.01H91.20M88.40 177.19H91.20" stroke="rgba(128,10,162,0.75)" stroke-width="0.85" fill="none"/><path d="M89.80 167.30L92.60 170.10L89.80 172.90L87.00 170.10Z" fill="rgba(128,10,162,0.75)"/>
<path d="M94.10 169.11V183.29M92.70 169.11H95.50M92.70 183.29H95.50" stroke="rgba(128,10,162,0.75)" stroke-width="0.85" fill="none"/><path d="M94.10 173.40L96.90 176.20L94.10 179.00L91.30 176.20Z" fill="rgba(128,10,162,0.75)"/>
<path d="M96.50 178.41V192.59M95.10 178.41H97.90M95.10 192.59H97.90" stroke="rgba(128,10,162,0.75)" stroke-width="0.85" fill="none"/><path d="M96.50 182.70L99.30 185.50L96.50 188.30L93.70 185.50Z" fill="rgba(128,10,162,0.75)"/>
<path d="M88.00 207.31V221.49M86.60 207.31H89.40M86.60 221.49H89.40" stroke="rgba(128,10,162,0.75)" stroke-width="0.85" fill="none"/><path d="M88.00 211.60L90.80 214.40L88.00 217.20L85.20 214.40Z" fill="rgba(128,10,162,0.75)"/>
<path d="M95.30 203.21V217.39M93.90 203.21H96.70M93.90 217.39H96.70" stroke="rgba(128,10,162,0.75)" stroke-width="0.85" fill="none"/><path d="M95.30 207.50L98.10 210.30L95.30 213.10L92.50 210.30Z" fill="rgba(128,10,162,0.75)"/>
<path d="M128.20 145.91V160.09M126.80 145.91H129.60M126.80 160.09H129.60" stroke="rgba(128,10,162,0.75)" stroke-width="0.85" fill="none"/><path d="M128.20 150.20L131.00 153.00L128.20 155.80L125.40 153.00Z" fill="rgba(128,10,162,0.75)"/>
<path d="M135.90 149.91V164.09M134.50 149.91H137.30M134.50 164.09H137.30" stroke="rgba(128,10,162,0.75)" stroke-width="0.85" fill="none"/><path d="M135.90 154.20L138.70 157.00L135.90 159.80L133.10 157.00Z" fill="rgba(128,10,162,0.75)"/>
<path d="M151.30 140.41V154.59M149.90 140.41H152.70M149.90 154.59H152.70" stroke="rgba(128,10,162,0.75)" stroke-width="0.85" fill="none"/><path d="M151.30 144.70L154.10 147.50L151.30 150.30L148.50 147.50Z" fill="rgba(128,10,162,0.75)"/>
<path d="M153.00 139.51V153.69M151.60 139.51H154.40M151.60 153.69H154.40" stroke="rgba(128,10,162,0.75)" stroke-width="0.85" fill="none"/><path d="M153.00 143.80L155.80 146.60L153.00 149.40L150.20 146.60Z" fill="rgba(128,10,162,0.75)"/>
<path d="M116.20 151.41V165.59M114.80 151.41H117.60M114.80 165.59H117.60" stroke="rgba(128,10,162,0.75)" stroke-width="0.85" fill="none"/><path d="M116.20 155.70L119.00 158.50L116.20 161.30L113.40 158.50Z" fill="rgba(128,10,162,0.75)"/>
<path d="M119.70 163.81V177.99M118.30 163.81H121.10M118.30 177.99H121.10" stroke="rgba(128,10,162,0.75)" stroke-width="0.85" fill="none"/><path d="M119.70 168.10L122.50 170.90L119.70 173.70L116.90 170.90Z" fill="rgba(128,10,162,0.75)"/>
<path d="M144.10 154.01V168.19M142.70 154.01H145.50M142.70 168.19H145.50" stroke="rgba(128,10,162,0.75)" stroke-width="0.85" fill="none"/><path d="M144.10 158.30L146.90 161.10L144.10 163.90L141.30 161.10Z" fill="rgba(128,10,162,0.75)"/>
<path d="M153.00 155.71V169.89M151.60 155.71H154.40M151.60 169.89H154.40" stroke="rgba(128,10,162,0.75)" stroke-width="0.85" fill="none"/><path d="M153.00 160.00L155.80 162.80L153.00 165.60L150.20 162.80Z" fill="rgba(128,10,162,0.75)"/>
<path d="M131.10 188.91V203.09M129.70 188.91H132.50M129.70 203.09H132.50" stroke="rgba(128,10,162,0.75)" stroke-width="0.85" fill="none"/><path d="M131.10 193.20L133.90 196.00L131.10 198.80L128.30 196.00Z" fill="rgba(128,10,162,0.75)"/>
<path d="M162.70 128.11V142.29M161.30 128.11H164.10M161.30 142.29H164.10" stroke="rgba(128,10,162,0.75)" stroke-width="0.85" fill="none"/><path d="M162.70 132.40L165.50 135.20L162.70 138.00L159.90 135.20Z" fill="rgba(128,10,162,0.75)"/>
<path d="M163.20 141.21V155.39M161.80 141.21H164.60M161.80 155.39H164.60" stroke="rgba(128,10,162,0.75)" stroke-width="0.85" fill="none"/><path d="M163.20 145.50L166.00 148.30L163.20 151.10L160.40 148.30Z" fill="rgba(128,10,162,0.75)"/>
<path d="M177.20 139.51V153.69M175.80 139.51H178.60M175.80 153.69H178.60" stroke="rgba(128,10,162,0.75)" stroke-width="0.85" fill="none"/><path d="M177.20 143.80L180.00 146.60L177.20 149.40L174.40 146.60Z" fill="rgba(128,10,162,0.75)"/>
<path d="M189.20 141.21V155.39M187.80 141.21H190.60M187.80 155.39H190.60" stroke="rgba(128,10,162,0.75)" stroke-width="0.85" fill="none"/><path d="M189.20 145.50L192.00 148.30L189.20 151.10L186.40 148.30Z" fill="rgba(128,10,162,0.75)"/>
<path d="M177.20 144.71V158.89M175.80 144.71H178.60M175.80 158.89H178.60" stroke="rgba(128,10,162,0.75)" stroke-width="0.85" fill="none"/><path d="M177.20 149.00L180.00 151.80L177.20 154.60L174.40 151.80Z" fill="rgba(128,10,162,0.75)"/>
<path d="M163.20 151.41V165.59M161.80 151.41H164.60M161.80 165.59H164.60" stroke="rgba(128,10,162,0.75)" stroke-width="0.85" fill="none"/><path d="M163.20 155.70L166.00 158.50L163.20 161.30L160.40 158.50Z" fill="rgba(128,10,162,0.75)"/>
<path d="M167.30 160.01V174.19M165.90 160.01H168.70M165.90 174.19H168.70" stroke="rgba(128,10,162,0.75)" stroke-width="0.85" fill="none"/><path d="M167.30 164.30L170.10 167.10L167.30 169.90L164.50 167.10Z" fill="rgba(128,10,162,0.75)"/>
<path d="M167.30 165.11V179.29M165.90 165.11H168.70M165.90 179.29H168.70" stroke="rgba(128,10,162,0.75)" stroke-width="0.85" fill="none"/><path d="M167.30 169.40L170.10 172.20L167.30 175.00L164.50 172.20Z" fill="rgba(128,10,162,0.75)"/>
<path d="M173.50 176.21V190.39M172.10 176.21H174.90M172.10 190.39H174.90" stroke="rgba(128,10,162,0.75)" stroke-width="0.85" fill="none"/><path d="M173.50 180.50L176.30 183.30L173.50 186.10L170.70 183.30Z" fill="rgba(128,10,162,0.75)"/>
<path d="M182.40 185.41V199.59M181.00 185.41H183.80M181.00 199.59H183.80" stroke="rgba(128,10,162,0.75)" stroke-width="0.85" fill="none"/><path d="M182.40 189.70L185.20 192.50L182.40 195.30L179.60 192.50Z" fill="rgba(128,10,162,0.75)"/>
<path d="M203.70 170.31V184.49M202.30 170.31H205.10M202.30 184.49H205.10" stroke="rgba(128,10,162,0.75)" stroke-width="0.85" fill="none"/><path d="M203.70 174.60L206.50 177.40L203.70 180.20L200.90 177.40Z" fill="rgba(128,10,162,0.75)"/>
<path d="M185.80 199.81V213.99M184.40 199.81H187.20M184.40 213.99H187.20" stroke="rgba(128,10,162,0.75)" stroke-width="0.85" fill="none"/><path d="M185.80 204.10L188.60 206.90L185.80 209.70L183.00 206.90Z" fill="rgba(128,10,162,0.75)"/>
<path d="M210.00 207.01V221.19M208.60 207.01H211.40M208.60 221.19H211.40" stroke="rgba(128,10,162,0.75)" stroke-width="0.85" fill="none"/><path d="M210.00 211.30L212.80 214.10L210.00 216.90L207.20 214.10Z" fill="rgba(128,10,162,0.75)"/>
<path d="M229.10 145.91V160.09M227.70 145.91H230.50M227.70 160.09H230.50" stroke="rgba(128,10,162,0.75)" stroke-width="0.85" fill="none"/><path d="M229.10 150.20L231.90 153.00L229.10 155.80L226.30 153.00Z" fill="rgba(128,10,162,0.75)"/>
<path d="M68.70 132.21V146.39M67.30 132.21H70.10M67.30 146.39H70.10" stroke="rgba(255,69,0,0.7)" stroke-width="0.85" fill="none"/><path d="M68.70 136.50L71.50 139.30L68.70 142.10L65.90 139.30Z" fill="rgba(255,69,0,0.7)"/>
<path d="M72.30 135.41V149.59M70.90 135.41H73.70M70.90 149.59H73.70" stroke="rgba(255,69,0,0.7)" stroke-width="0.85" fill="none"/><path d="M72.30 139.70L75.10 142.50L72.30 145.30L69.50 142.50Z" fill="rgba(255,69,0,0.7)"/>
<path d="M77.40 134.61V148.79M76.00 134.61H78.80M76.00 148.79H78.80" stroke="rgba(255,69,0,0.7)" stroke-width="0.85" fill="none"/><path d="M77.40 138.90L80.20 141.70L77.40 144.50L74.60 141.70Z" fill="rgba(255,69,0,0.7)"/>
<path d="M78.10 137.21V151.39M76.70 137.21H79.50M76.70 151.39H79.50" stroke="rgba(255,69,0,0.7)" stroke-width="0.85" fill="none"/><path d="M78.10 141.50L80.90 144.30L78.10 147.10L75.30 144.30Z" fill="rgba(255,69,0,0.7)"/>
<path d="M78.90 141.81V155.99M77.50 141.81H80.30M77.50 155.99H80.30" stroke="rgba(255,69,0,0.7)" stroke-width="0.85" fill="none"/><path d="M78.90 146.10L81.70 148.90L78.90 151.70L76.10 148.90Z" fill="rgba(255,69,0,0.7)"/>
<path d="M80.40 142.21V156.39M79.00 142.21H81.80M79.00 156.39H81.80" stroke="rgba(255,69,0,0.7)" stroke-width="0.85" fill="none"/><path d="M80.40 146.50L83.20 149.30L80.40 152.10L77.60 149.30Z" fill="rgba(255,69,0,0.7)"/>
<path d="M84.70 125.11V139.29M83.30 125.11H86.10M83.30 139.29H86.10" stroke="rgba(255,69,0,0.7)" stroke-width="0.85" fill="none"/><path d="M84.70 129.40L87.50 132.20L84.70 135.00L81.90 132.20Z" fill="rgba(255,69,0,0.7)"/>
<path d="M86.20 138.71V152.89M84.80 138.71H87.60M84.80 152.89H87.60" stroke="rgba(255,69,0,0.7)" stroke-width="0.85" fill="none"/><path d="M86.20 143.00L89.00 145.80L86.20 148.60L83.40 145.80Z" fill="rgba(255,69,0,0.7)"/>
<path d="M88.00 141.01V155.19M86.60 141.01H89.40M86.60 155.19H89.40" stroke="rgba(255,69,0,0.7)" stroke-width="0.85" fill="none"/><path d="M88.00 145.30L90.80 148.10L88.00 150.90L85.20 148.10Z" fill="rgba(255,69,0,0.7)"/>
<path d="M89.80 144.81V158.99M88.40 144.81H91.20M88.40 158.99H91.20" stroke="rgba(255,69,0,0.7)" stroke-width="0.85" fill="none"/><path d="M89.80 149.10L92.60 151.90L89.80 154.70L87.00 151.90Z" fill="rgba(255,69,0,0.7)"/>
<path d="M85.50 153.91V168.09M84.10 153.91H86.90M84.10 168.09H86.90" stroke="rgba(255,69,0,0.7)" stroke-width="0.85" fill="none"/><path d="M85.50 158.20L88.30 161.00L85.50 163.80L82.70 161.00Z" fill="rgba(255,69,0,0.7)"/>
<path d="M88.80 152.31V166.49M87.40 152.31H90.20M87.40 166.49H90.20" stroke="rgba(255,69,0,0.7)" stroke-width="0.85" fill="none"/><path d="M88.80 156.60L91.60 159.40L88.80 162.20L86.00 159.40Z" fill="rgba(255,69,0,0.7)"/>
<path d="M94.70 152.31V166.49M93.30 152.31H96.10M93.30 166.49H96.10" stroke="rgba(255,69,0,0.7)" stroke-width="0.85" fill="none"/><path d="M94.70 156.60L97.50 159.40L94.70 162.20L91.90 159.40Z" fill="rgba(255,69,0,0.7)"/>
<path d="M95.60 161.51V175.69M94.20 161.51H97.00M94.20 175.69H97.00" stroke="rgba(255,69,0,0.7)" stroke-width="0.85" fill="none"/><path d="M95.60 165.80L98.40 168.60L95.60 171.40L92.80 168.60Z" fill="rgba(255,69,0,0.7)"/>
<path d="M64.50 205.31V219.49M63.10 205.31H65.90M63.10 219.49H65.90" stroke="rgba(255,69,0,0.7)" stroke-width="0.85" fill="none"/><path d="M64.50 209.60L67.30 212.40L64.50 215.20L61.70 212.40Z" fill="rgba(255,69,0,0.7)"/>
<path d="M103.30 150.21V164.39M101.90 150.21H104.70M101.90 164.39H104.70" stroke="rgba(255,69,0,0.7)" stroke-width="0.85" fill="none"/><path d="M103.30 154.50L106.10 157.30L103.30 160.10L100.50 157.30Z" fill="rgba(255,69,0,0.7)"/>
<path d="M131.60 120.21V134.39M130.20 120.21H133.00M130.20 134.39H133.00" stroke="rgba(255,69,0,0.7)" stroke-width="0.85" fill="none"/><path d="M131.60 124.50L134.40 127.30L131.60 130.10L128.80 127.30Z" fill="rgba(255,69,0,0.7)"/>
<path d="M117.10 140.41V154.59M115.70 140.41H118.50M115.70 154.59H118.50" stroke="rgba(255,69,0,0.7)" stroke-width="0.85" fill="none"/><path d="M117.10 144.70L119.90 147.50L117.10 150.30L114.30 147.50Z" fill="rgba(255,69,0,0.7)"/>
<path d="M112.30 146.91V161.09M110.90 146.91H113.70M110.90 161.09H113.70" stroke="rgba(255,69,0,0.7)" stroke-width="0.85" fill="none"/><path d="M112.30 151.20L115.10 154.00L112.30 156.80L109.50 154.00Z" fill="rgba(255,69,0,0.7)"/>
<path d="M104.50 147.91V162.09M103.10 147.91H105.90M103.10 162.09H105.90" stroke="rgba(255,69,0,0.7)" stroke-width="0.85" fill="none"/><path d="M104.50 152.20L107.30 155.00L104.50 157.80L101.70 155.00Z" fill="rgba(255,69,0,0.7)"/>
<path d="M123.10 150.41V164.59M121.70 150.41H124.50M121.70 164.59H124.50" stroke="rgba(255,69,0,0.7)" stroke-width="0.85" fill="none"/><path d="M123.10 154.70L125.90 157.50L123.10 160.30L120.30 157.50Z" fill="rgba(255,69,0,0.7)"/>
<path d="M149.20 130.11V144.29M147.80 130.11H150.60M147.80 144.29H150.60" stroke="rgba(255,69,0,0.7)" stroke-width="0.85" fill="none"/><path d="M149.20 134.40L152.00 137.20L149.20 140.00L146.40 137.20Z" fill="rgba(255,69,0,0.7)"/>
<path d="M144.10 148.91V163.09M142.70 148.91H145.50M142.70 163.09H145.50" stroke="rgba(255,69,0,0.7)" stroke-width="0.85" fill="none"/><path d="M144.10 153.20L146.90 156.00L144.10 158.80L141.30 156.00Z" fill="rgba(255,69,0,0.7)"/>
<path d="M128.70 160.01V174.19M127.30 160.01H130.10M127.30 174.19H130.10" stroke="rgba(255,69,0,0.7)" stroke-width="0.85" fill="none"/><path d="M128.70 164.30L131.50 167.10L128.70 169.90L125.90 167.10Z" fill="rgba(255,69,0,0.7)"/>
<path d="M149.90 149.71V163.89M148.50 149.71H151.30M148.50 163.89H151.30" stroke="rgba(255,69,0,0.7)" stroke-width="0.85" fill="none"/><path d="M149.90 154.00L152.70 156.80L149.90 159.60L147.10 156.80Z" fill="rgba(255,69,0,0.7)"/>
<path d="M174.70 148.91V163.09M173.30 148.91H176.10M173.30 163.09H176.10" stroke="rgba(255,69,0,0.7)" stroke-width="0.85" fill="none"/><path d="M174.70 153.20L177.50 156.00L174.70 158.80L171.90 156.00Z" fill="rgba(255,69,0,0.7)"/>
<path d="M177.20 153.21V167.39M175.80 153.21H178.60M175.80 167.39H178.60" stroke="rgba(255,69,0,0.7)" stroke-width="0.85" fill="none"/><path d="M177.20 157.50L180.00 160.30L177.20 163.10L174.40 160.30Z" fill="rgba(255,69,0,0.7)"/>
<path d="M243.80 126.41V140.59M242.40 126.41H245.20M242.40 140.59H245.20" stroke="rgba(255,69,0,0.7)" stroke-width="0.85" fill="none"/><path d="M243.80 130.70L246.60 133.50L243.80 136.30L241.00 133.50Z" fill="rgba(255,69,0,0.7)"/></g></g><path d="M50.0 47.40H355.0M50.0 157.47H355.0" stroke="#000" stroke-width="1.4" stroke-dasharray="3.7 1.61" stroke-dashoffset="4.2" fill="none"/><rect x="50.0" y="5.0" width="305.0" height="106.5" fill="none" stroke="#111" stroke-width="0.95"/><rect x="50.0" y="122.0" width="305.0" height="106.4" fill="none" stroke="#111" stroke-width="0.95"/><path d="M51.62 111.50v2.0 M56.95 111.50v2.0 M61.58 111.50v2.0 M65.65 111.50v2.0 M69.30 111.50v3.5 M93.29 111.50v2.0 M107.33 111.50v2.0 M117.28 111.50v2.0 M125.01 111.50v2.0 M131.32 111.50v2.0 M136.65 111.50v2.0 M141.28 111.50v2.0 M145.35 111.50v2.0 M149.00 111.50v3.5 M172.99 111.50v2.0 M187.03 111.50v2.0 M196.98 111.50v2.0 M204.71 111.50v2.0 M211.02 111.50v2.0 M216.35 111.50v2.0 M220.98 111.50v2.0 M225.05 111.50v2.0 M228.70 111.50v3.5 M252.69 111.50v2.0 M266.73 111.50v2.0 M276.68 111.50v2.0 M284.41 111.50v2.0 M290.72 111.50v2.0 M296.05 111.50v2.0 M300.68 111.50v2.0 M304.75 111.50v2.0 M308.40 111.50v3.5 M332.39 111.50v2.0 M346.43 111.50v2.0" stroke="#3a3a3a" stroke-width="0.9" fill="none"/><path d="M51.62 228.40v2.0 M56.95 228.40v2.0 M61.58 228.40v2.0 M65.65 228.40v2.0 M69.30 228.40v3.5 M93.29 228.40v2.0 M107.33 228.40v2.0 M117.28 228.40v2.0 M125.01 228.40v2.0 M131.32 228.40v2.0 M136.65 228.40v2.0 M141.28 228.40v2.0 M145.35 228.40v2.0 M149.00 228.40v3.5 M172.99 228.40v2.0 M187.03 228.40v2.0 M196.98 228.40v2.0 M204.71 228.40v2.0 M211.02 228.40v2.0 M216.35 228.40v2.0 M220.98 228.40v2.0 M225.05 228.40v2.0 M228.70 228.40v3.5 M252.69 228.40v2.0 M266.73 228.40v2.0 M276.68 228.40v2.0 M284.41 228.40v2.0 M290.72 228.40v2.0 M296.05 228.40v2.0 M300.68 228.40v2.0 M304.75 228.40v2.0 M308.40 228.40v3.5 M332.39 228.40v2.0 M346.43 228.40v2.0" stroke="#3a3a3a" stroke-width="0.9" fill="none"/><g font-family="'Liberation Serif', serif" font-size="13.6" fill="#333"><path d="M47.50 4.80H50.0 M47.50 26.10H50.0 M47.50 47.40H50.0 M47.50 68.70H50.0 M47.50 90.00H50.0" stroke="#3a3a3a" stroke-width="0.9" fill="none"/><text x="46.00" y="10.60" text-anchor="end">20</text><text x="46.00" y="31.90" text-anchor="end">10</text><text x="46.00" y="53.20" text-anchor="end">0</text><text x="46.00" y="74.50" text-anchor="end">-10</text><text x="46.00" y="95.80" text-anchor="end">-20</text><path d="M47.50 122.00H50.0 M47.50 143.28H50.0 M47.50 157.47H50.0 M47.50 192.93H50.0 M47.50 228.40H50.0" stroke="#3a3a3a" stroke-width="0.9" fill="none"/><text x="46.00" y="127.80" text-anchor="end">5</text><text x="46.00" y="149.08" text-anchor="end">2</text><text x="46.00" y="163.27" text-anchor="end">0</text><text x="46.00" y="198.73" text-anchor="end">-5</text><text x="46.00" y="234.20" text-anchor="end">-10</text><text x="69.30" y="243.60" text-anchor="middle">1</text><text x="125.01" y="243.60" text-anchor="middle">5</text><text x="149.00" y="243.60" text-anchor="middle">10</text><text x="204.71" y="243.60" text-anchor="middle">50</text><text x="228.70" y="243.60" text-anchor="middle">100</text><text x="266.73" y="243.60" text-anchor="middle">300</text><text x="109" y="258.1" font-size="14.2" textLength="187" lengthAdjust="spacingAndGlyphs">Observed flux density <tspan font-style="italic">S</tspan><tspan font-size="9.5" dy="2.5" font-style="italic">ν</tspan><tspan font-size="9.5">,obs</tspan><tspan dy="-2.5"> (mJy)</tspan></text><text transform="translate(11.8 180.3) rotate(-90)" font-size="14.2" textLength="142.5" lengthAdjust="spacingAndGlyphs">(<tspan font-style="italic">S</tspan><tspan font-size="9.5" dy="2.5" font-style="italic">ν</tspan><tspan font-size="9.5">,obs</tspan><tspan dy="-2.5"> − </tspan><tspan font-style="italic">S</tspan><tspan font-size="9.5" dy="2.5" font-style="italic">ν</tspan><tspan font-size="9.5">,model</tspan><tspan dy="-2.5">)/Δ</tspan><tspan font-style="italic">S</tspan><tspan font-size="9.5" dy="2.5" font-style="italic">ν</tspan><tspan font-size="9.5">,obs</tspan></text></g><rect x="273.8" y="74.3" width="81.4" height="73.4" rx="2" fill="rgba(255,255,255,0.8)" stroke="rgba(200,200,200,0.85)" stroke-width="1"/><g opacity="0.78"><path d="M288.30 76.70V86.90M286.90 76.70H289.70M286.90 86.90H289.70" stroke="rgba(31,119,180,0.8)" stroke-width="0.85" fill="none"/><path d="M288.30 79.00L291.10 81.80L288.30 84.60L285.50 81.80Z" fill="rgba(31,119,180,0.8)"/></g><text x="306.6" y="86.50" font-family="'Liberation Serif', serif" font-size="11.6" fill="#333" transform="translate(306.6 0) scale(0.92 1) translate(-306.6 0)">150 MHz</text><g opacity="0.78"><path d="M288.30 91.10V101.30M286.90 91.10H289.70M286.90 101.30H289.70" stroke="rgba(255,127,14,0.74)" stroke-width="0.85" fill="none"/><path d="M288.30 93.40L291.10 96.20L288.30 99.00L285.50 96.20Z" fill="rgba(255,127,14,0.74)"/></g><text x="306.6" y="100.90" font-family="'Liberation Serif', serif" font-size="11.6" fill="#333" transform="translate(306.6 0) scale(0.92 1) translate(-306.6 0)">400 MHz</text><g opacity="0.78"><path d="M288.30 105.50V115.70M286.90 105.50H289.70M286.90 115.70H289.70" stroke="rgba(44,160,44,0.8)" stroke-width="0.85" fill="none"/><path d="M288.30 107.80L291.10 110.60L288.30 113.40L285.50 110.60Z" fill="rgba(44,160,44,0.8)"/></g><text x="306.6" y="115.30" font-family="'Liberation Serif', serif" font-size="11.6" fill="#333" transform="translate(306.6 0) scale(0.92 1) translate(-306.6 0)">888 MHz</text><g opacity="0.78"><path d="M288.30 119.90V130.10M286.90 119.90H289.70M286.90 130.10H289.70" stroke="rgba(128,10,162,0.75)" stroke-width="0.85" fill="none"/><path d="M288.30 122.20L291.10 125.00L288.30 127.80L285.50 125.00Z" fill="rgba(128,10,162,0.75)"/></g><text x="306.6" y="129.70" font-family="'Liberation Serif', serif" font-size="11.6" fill="#333" transform="translate(306.6 0) scale(0.92 1) translate(-306.6 0)">1400 MHz</text><g opacity="0.78"><path d="M288.30 134.30V144.50M286.90 134.30H289.70M286.90 144.50H289.70" stroke="rgba(255,69,0,0.7)" stroke-width="0.85" fill="none"/><path d="M288.30 136.60L291.10 139.40L288.30 142.20L285.50 139.40Z" fill="rgba(255,69,0,0.7)"/></g><text x="306.6" y="144.10" font-family="'Liberation Serif', serif" font-size="11.6" fill="#333" transform="translate(306.6 0) scale(0.92 1) translate(-306.6 0)">3000 MHz</text></svg>
</body></html>
